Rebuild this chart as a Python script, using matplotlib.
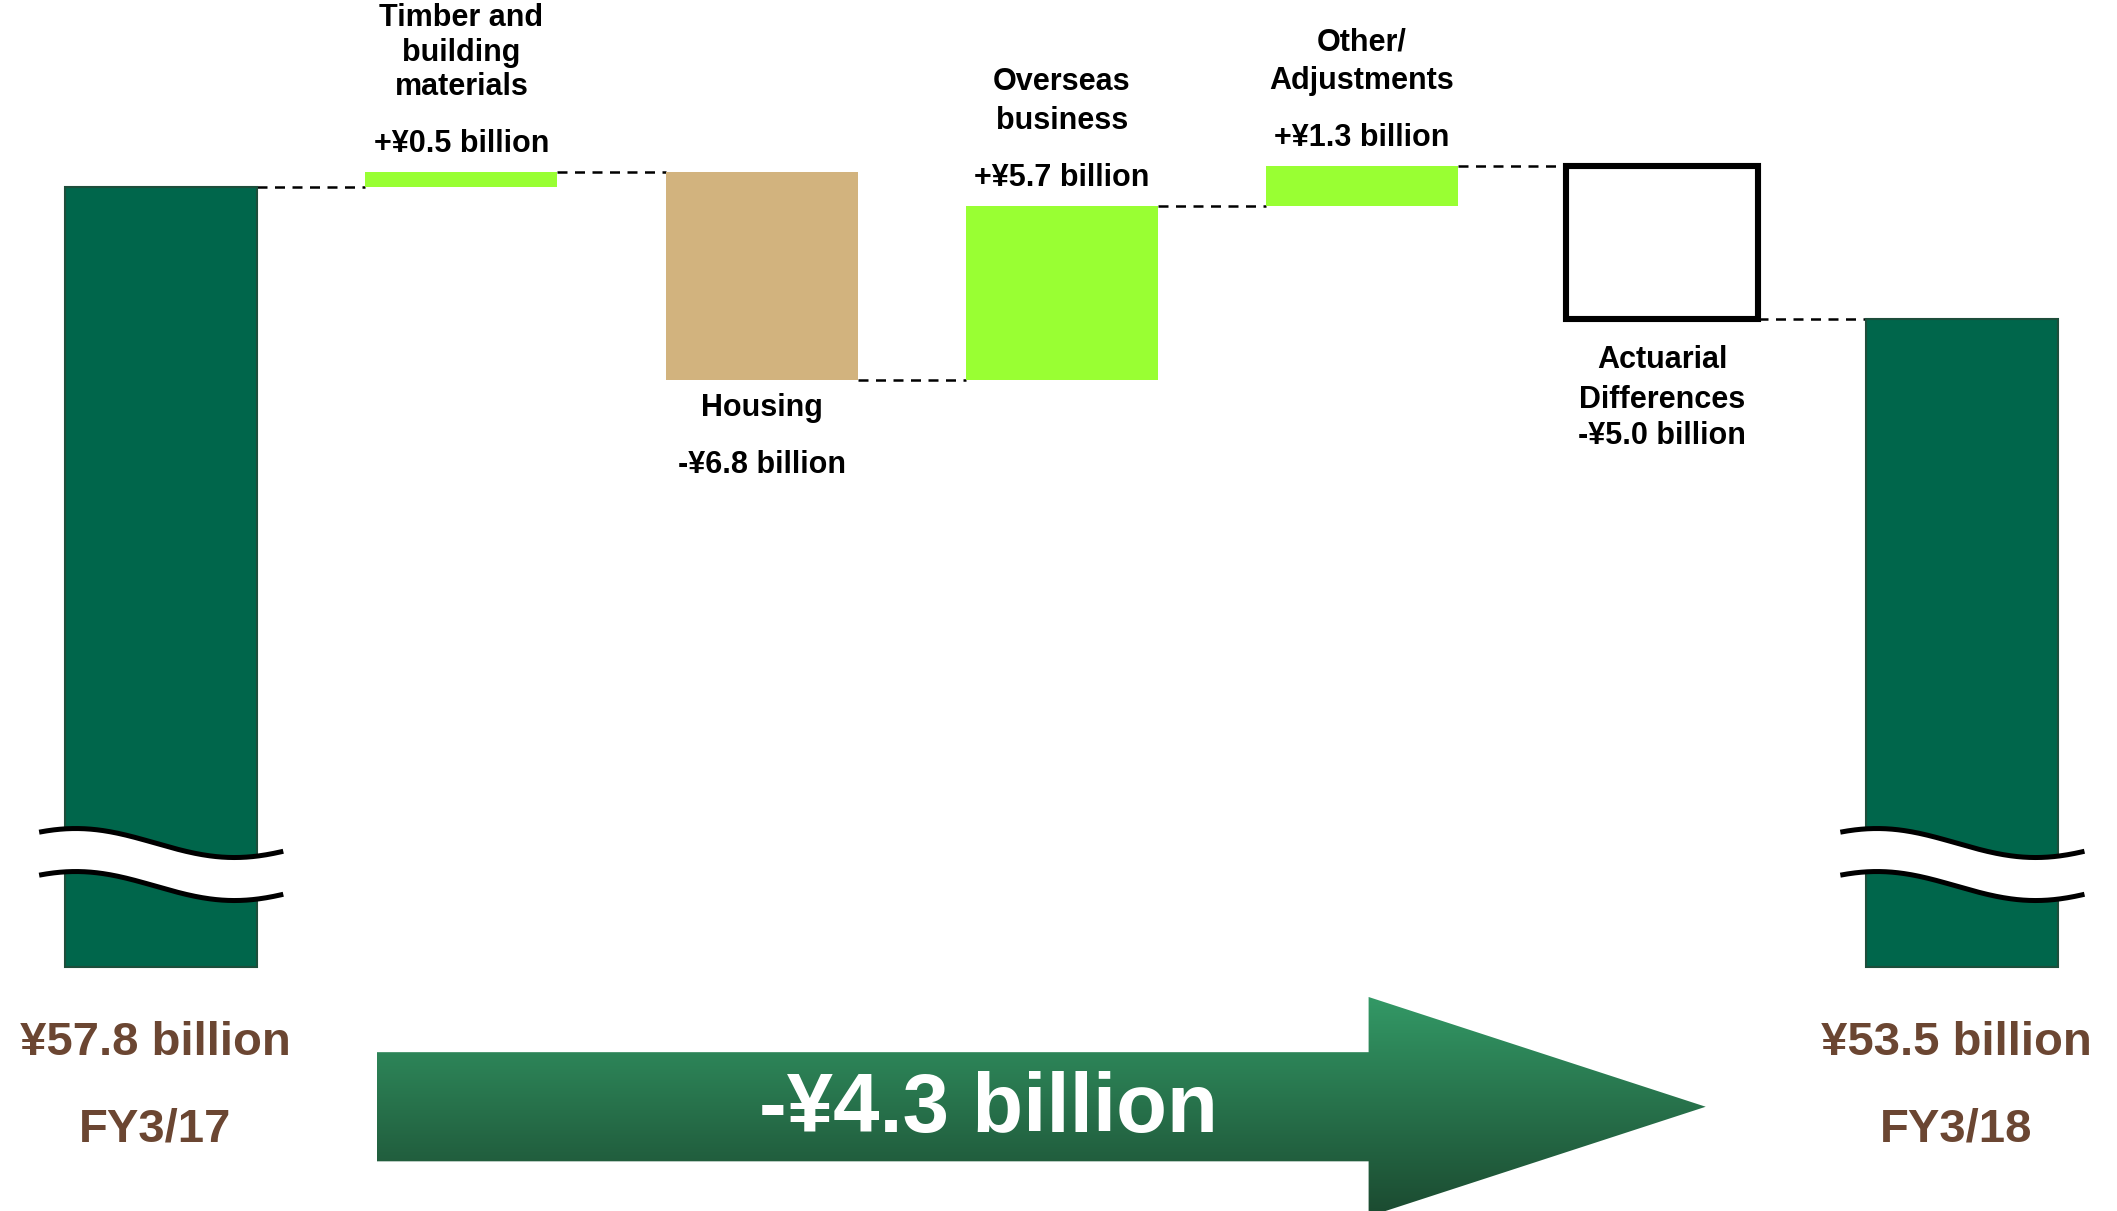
import numpy as np
import matplotlib.pyplot as plt
from matplotlib.patches import Polygon
from matplotlib.colors import LinearSegmentedColormap

plt.rcParams['font.family'] = ['Liberation Sans', 'DejaVu Sans']
plt.rcParams['font.weight'] = 'bold'

# operating income bridge, billions of yen
start_label = "FY3/17"
end_label = "FY3/18"
start_value = 57.8
end_value = 53.5
step_names = ["Timber and\nbuilding\nmaterials", "Housing", "Overseas\nbusiness",
              "Other/\nAdjustments", "Actuarial\nDifferences"]
step_values = [0.5, -6.8, 5.7, 1.3, -5.0]
total_change = -4.3

axis_floor = 32.3   # totals are cut off here (broken axis)

DARK_GREEN = "#00664b"
LIME = "#99ff33"
TAN = "#d2b37e"
BROWN = "#6b4632"
step_colors = [LIME, TAN, LIME, LIME, "white"]

W, H = 2117, 1211
fig = plt.figure(figsize=(W / 100, H / 100), dpi=100)
ax = fig.add_axes([0, 0, 1, 1])
XLIM = (-0.537, 6.515)
YLIM = (24.32, 63.93)
PX = (YLIM[1] - YLIM[0]) / H      # data units per pixel, vertical
PXX = (XLIM[1] - XLIM[0]) / W     # data units per pixel, horizontal


def px(n):
    return n * PX


def yen(v, sign=True):
    s = ("+" if v > 0 else "-") if sign else ""
    return "%s¥%.1f billion" % (s, abs(v))


bw = 0.64
running = np.cumsum([start_value] + step_values)

# totals
for x, v in [(0, start_value), (6, end_value)]:
    ax.bar(x, v - axis_floor, bottom=axis_floor, width=bw, color=DARK_GREEN,
           edgecolor="#1d4e3b", linewidth=1.5, zorder=2)

# steps
for i, (v, c) in enumerate(zip(step_values, step_colors)):
    lo = min(running[i], running[i + 1])
    if c == "white":
        ax.bar(i + 1, abs(v), bottom=lo, width=bw, color="white",
               edgecolor="black", linewidth=4.4, zorder=2)
    else:
        ax.bar(i + 1, abs(v), bottom=lo, width=bw, color=c, linewidth=0, zorder=2)

# dashed connectors between neighbouring bars
for i in range(6):
    ax.plot([i + bw / 2, i + 1 - bw / 2], [running[i], running[i]], color="black",
            lw=1.8, linestyle=(0, (4.0, 3.0)), zorder=1)

# label layout (pixel offsets)
value_gap = [20, 93, 20, 20, 125]
name_gap = [50, 13, 50, 50, 26]
spacing = [1.19, 1.0, 1.38, 1.38, 1.45]
for i, (name, v) in enumerate(zip(step_names, step_values)):
    x = i + 1
    if v > 0:
        top = max(running[i], running[i + 1])
        vy = top + px(value_gap[i])
        ax.text(x, vy, yen(v), ha="center", va="baseline", fontsize=22)
        ax.text(x, vy + px(name_gap[i]), name, ha="center", va="bottom",
                fontsize=22, linespacing=spacing[i], multialignment="center")
    else:
        bot = min(running[i], running[i + 1])
        ax.text(x, bot - px(value_gap[i]), yen(v), ha="center", va="baseline", fontsize=22)
        ax.text(x, bot - px(name_gap[i]), name, ha="center", va="top",
                fontsize=22, linespacing=spacing[i], multialignment="center")

# totals labels
for x, v, lab in [(0, start_value, start_label), (6, end_value, end_label)]:
    ax.text(x - 0.02, axis_floor - px(88), yen(v, sign=False), ha="center",
            va="baseline", fontsize=34, color=BROWN)
    ax.text(x - 0.02, axis_floor - px(174), lab, ha="center", va="baseline",
            fontsize=34, color=BROWN)


# wavy break marks on the total bars
def draw_break(xc):
    half = bw / 2 + 26 * PXX
    xs = np.linspace(xc - half, xc + half, 200)
    t = (xs - xs[0]) / (xs[-1] - xs[0])
    wave = np.cos(2 * np.pi * (t - 0.15) / 1.3) * px(14.5)
    upper = axis_floor + px(124) + wave
    lower = axis_floor + px(81) + wave
    ax.fill_between(xs, lower, upper, color="white", lw=0, zorder=4)
    for yy in (upper, lower):
        ax.plot(xs, yy, color="black", lw=3.6, solid_capstyle="butt", zorder=5)


draw_break(0)
draw_break(6)

# big arrow with the overall change
x0, xh, xt = 0.7185, 4.022, 5.145
yc = 27.73
shaft, head = 1.785, 3.59
pts = [(x0, yc - shaft), (xh, yc - shaft), (xh, yc - head), (xt, yc),
       (xh, yc + head), (xh, yc + shaft), (x0, yc + shaft)]
arrow = Polygon(pts, closed=True, facecolor="none", edgecolor="none")
ax.add_patch(arrow)
cmap = LinearSegmentedColormap.from_list("arrow", ["#1b4a30", "#339966"])
grad = np.linspace(0, 1, 256).reshape(-1, 1)
im = ax.imshow(grad, cmap=cmap, origin="lower", aspect="auto",
               extent=(x0, xt, yc - head, yc + head), zorder=3)
im.set_clip_path(arrow)
ax.text(2.754, yc - px(25), yen(total_change), ha="center", va="baseline",
        fontsize=60, color="white", zorder=6)

ax.set_xlim(*XLIM)
ax.set_ylim(*YLIM)
ax.axis("off")

fig.savefig("out.png", dpi=100, facecolor="white")
